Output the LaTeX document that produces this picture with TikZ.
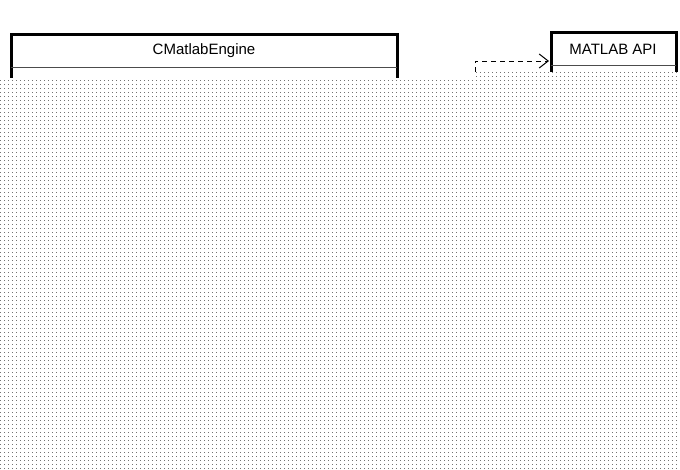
\documentclass[tikz,border=0pt]{standalone}
\usepackage{fontspec}
\setmainfont{Liberation Sans}
\usetikzlibrary{patterns,arrows.meta}
\pgfdeclarepatternformonly{bigdots}{\pgfqpoint{-1pt}{-1pt}}{\pgfqpoint{5pt}{5pt}}{\pgfqpoint{4pt}{4pt}}{%
  \pgfpathrectangle{\pgfqpoint{0pt}{0pt}}{\pgfqpoint{1.2pt}{1.2pt}}\pgfusepath{fill}}
\begin{document}
\begin{tikzpicture}[x=1pt,y=-1pt,
  cls/.style={draw=black,line width=3pt},
  hdr/.style={draw=black!70,line width=1pt},
  lbl/.style={font=\fontsize{15pt}{17pt}\selectfont,inner sep=0pt}]
\useasboundingbox (0,0) rectangle (680,469);
\fill[white] (0,0) rectangle (680,469);
% CMatlabEngine
\draw[cls] (11,100) -- (11,34) -- (397,34) -- (397,100);
\draw[hdr] (11,67.5) -- (397,67.5);
\node[lbl] (eng) at (204,51) {CMatlabEngine};
% MATLAB API
\draw[cls] (551,100) -- (551,32) -- (676,32) -- (676,100);
\draw[hdr] (551,65.5) -- (676,65.5);
\node[lbl] (api) at (613,49) {MATLAB API};
\coordinate (s) at (475,90);
\coordinate (t) at (549,61);
\draw[dashed,dash pattern=on 5pt off 4pt,line width=1pt,-{Straight Barb[length=9pt,width=14pt]}] (s) |- (t);
% dotted cover
\fill[white] (0,78) -- (473,78) -- (473,72) -- (680,72) -- (680,469) -- (0,469) -- cycle;
\fill[pattern=bigdots,pattern color=black!55] (0,78) -- (473,78) -- (473,72) -- (680,72) -- (680,469) -- (0,469) -- cycle;
\end{tikzpicture}
\end{document}
